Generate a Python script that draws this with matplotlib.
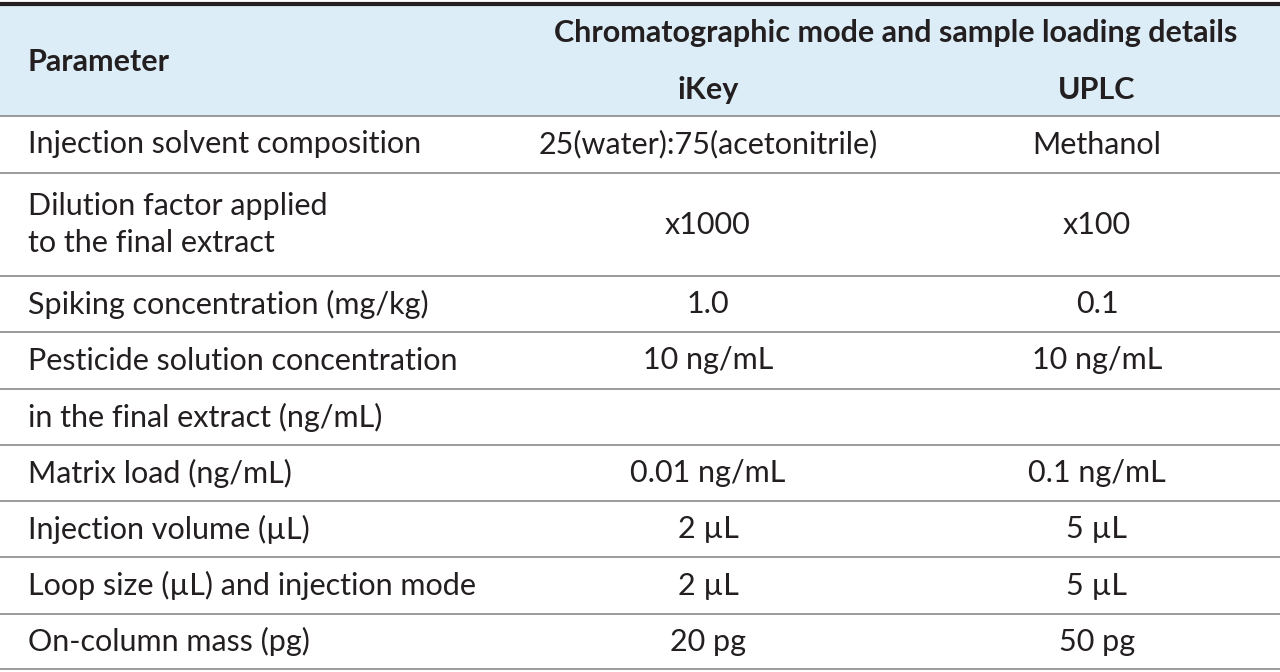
import matplotlib
matplotlib.use("Agg")
import matplotlib.pyplot as plt

params = ["Injection solvent composition", "Dilution factor applied\nto the final extract",
          "Spiking concentration (mg/kg)", "Pesticide solution concentration",
          "in the final extract (ng/mL)", "Matrix load (ng/mL)", "Injection volume (µL)",
          "Loop size (µL) and injection mode", "On-column mass (pg)"]
ikey = ["25(water):75(acetonitrile)", "x1000", "1.0", "10 ng/mL", "", "0.01 ng/mL", "2 µL", "2 µL", "20 pg"]
uplc = ["Methanol", "x100", "0.1", "10 ng/mL", "", "0.1 ng/mL", "5 µL", "5 µL", "50 pg"]
header_top = "Chromatographic mode and sample loading details"
col_heads = ["iKey", "UPLC"]

lines_y = [116, 173, 276, 332, 389, 445, 501, 557, 614, 669]
W, H = 1280, 672
fig = plt.figure(figsize=(12.8, 6.72), dpi=100)
ax = fig.add_axes([0, 0, 1, 1])
ax.set_xlim(0, W); ax.set_ylim(H, 0); ax.axis("off")
tc = "#231f20"
fam = ["Lato", "DejaVu Sans"]
fs = 22
ax.add_patch(plt.Rectangle((0, 4), W, lines_y[0] - 4, color="#dcedf7", lw=0))
ax.plot([0, W], [4, 4], color="#231f20", lw=3)
for y in lines_y:
    ax.plot([0, W], [y, y], color="#8a8a8a", lw=1.2)
ax.text(28, 62, "Parameter", fontsize=fs, fontweight="bold", color=tc, va="center", family=fam)
ax.text(896, 33, header_top, fontsize=fs, fontweight="bold", color=tc, va="center", ha="center", family=fam)
ax.text(708, 90, col_heads[0], fontsize=fs, fontweight="bold", color=tc, va="center", ha="center", family=fam)
ax.text(1097, 90, col_heads[1], fontsize=fs, fontweight="bold", color=tc, va="center", ha="center", family=fam)
for i, (p, a, b) in enumerate(zip(params, ikey, uplc)):
    yc = (lines_y[i] + lines_y[i + 1]) / 2
    ax.text(28, yc, p, fontsize=fs, color=tc, va="center", family=fam, linespacing=1.4)
    ax.text(708, yc, a, fontsize=fs, color=tc, va="center", ha="center", family=fam)
    ax.text(1097, yc, b, fontsize=fs, color=tc, va="center", ha="center", family=fam)
fig.savefig("out.png", dpi=100)
